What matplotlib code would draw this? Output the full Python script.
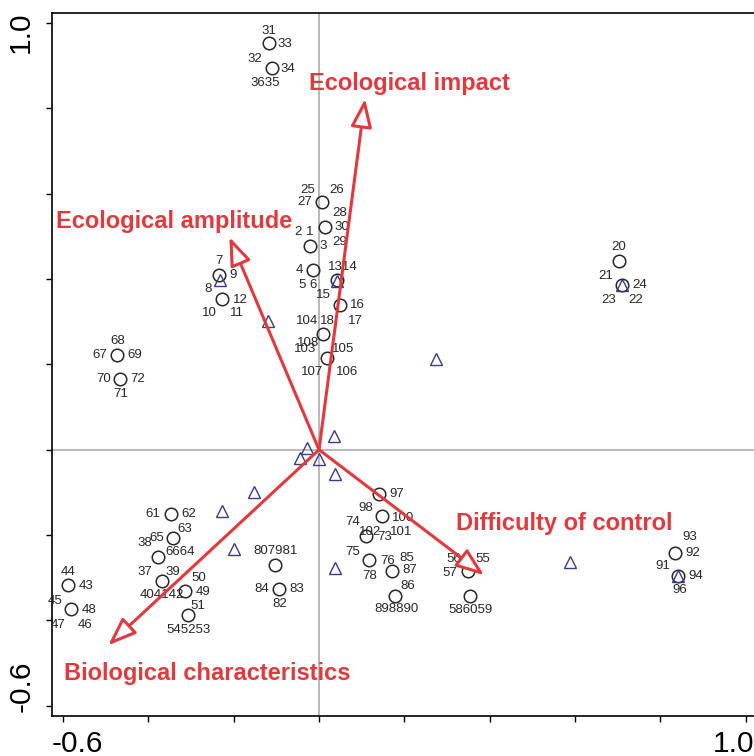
import matplotlib
matplotlib.use('Agg')
import matplotlib.pyplot as plt
from matplotlib.transforms import ScaledTranslation

plt.rcParams['font.family'] = ['Liberation Sans', 'DejaVu Sans']

# ---------------- data ----------------
# species sites (circles)
site_x = [-0.117, -0.111, 0.006, 0.014, -0.020, -0.234, -0.227, -0.013, 0.041, 0.049,
          0.010, 0.018, -0.474, -0.466, 0.703, 0.711, -0.347, -0.342, -0.377, -0.369,
          -0.314, -0.308, -0.588, -0.581, -0.102, -0.093, 0.141, 0.147, 0.110, 0.118,
          0.170, 0.178, 0.348, 0.354, 0.834, 0.842]
site_y = [0.952, 0.894, 0.579, 0.521, 0.478, 0.410, 0.354, 0.420, 0.397, 0.340,
          0.272, 0.215, 0.221, 0.166, 0.443, 0.386, -0.151, -0.207, -0.251, -0.308,
          -0.332, -0.388, -0.318, -0.373, -0.271, -0.326, -0.103, -0.156, -0.203, -0.258,
          -0.285, -0.342, -0.285, -0.342, -0.241, -0.295]
site_labels = [["31", "33"], ["32", "34", "3635"], ["25", "26", "27"], ["28", "30", "29"],
               ["2 1", "3"], ["7", "9", "8"], ["12", "10", "11"], ["4", "5 6"],
               ["1314", "15"], ["16", "17"], ["104", "18", "108", "103"],
               ["105", "107", "106"], ["68", "67", "69"], ["70", "72", "71"], ["20"],
               ["21", "24", "23", "22"], ["61", "62"], ["63", "65"], ["38", "6664"],
               ["37", "39", "404142"], ["50", "49"], ["51", "545253"], ["44", "43"],
               ["45", "48", "47", "46"], ["807981"], ["84", "83", "82"], ["97"],
               ["98", "100", "101"], ["74", "102", "73"], ["75", "76", "78"], ["85", "87"],
               ["86", "898890"], ["56", "55", "57"], ["586059"], ["93", "92"],
               ["91", "94", "96"]]

# samples / other scores (triangles)
tri_x = [-0.232, -0.119, 0.041, 0.711, 0.273, 0.034, -0.029, -0.045, 0.001, 0.037,
         -0.152, -0.228, -0.199, 0.037, 0.587, 0.842]
tri_y = [0.398, 0.302, 0.396, 0.386, 0.212, 0.033, 0.005, -0.019, -0.022, -0.056,
         -0.100, -0.143, -0.232, -0.276, -0.264, -0.295]

# environmental variables (arrows)
var_names = ["Ecological impact", "Ecological amplitude",
             "Biological characteristics", "Difficulty of control"]
var_x = [0.108, -0.210, -0.494, 0.387]
var_y = [0.822, 0.498, -0.458, -0.294]

# ---------------- layout ----------------
label_offsets = [[(0, 12.6), (16, -0.7)], [(-16.7, 9.3), (16.3, -0.7), (-6.7, -14.7)],
                 [(-13.7, 12), (15.3, 12.7), (-16.7, 0)], [(15, 14.7), (17, 0), (15, -15)],
                 [(-6.3, 13.3), (12.7, 0)], [(0, 14), (14, 0), (-11, -14)],
                 [(18.4, -1), (-13, -14.3), (14.4, -14.3)], [(-14.3, 0), (-5, -14.3)],
                 [(6.6, 13.4), (-12.7, -14.6)], [(17.3, 0), (15, -16.7)],
                 [(-16.6, 12.3), (4.4, 12.3), (-15, -9.3), (-18.3, -15.3)],
                 [(16.6, 9), (-15, -14.4), (20, -14.4)], [(1, 14), (-17.4, 0), (18.3, 0)],
                 [(-16.7, 0), (17.3, 0), (1, -15)], [(0, 14)],
                 [(-16.6, 9.3), (17.7, 0), (-13.6, -15), (13.7, -15)],
                 [(-17.7, 0), (18, 0)], [(11.7, 9.3), (-16.6, 0)], [(-13.3, 14), (21.7, 4.6)],
                 [(-16.7, 9.4), (11, 9.4), (0, -14)], [(13.3, 13.4), (17.7, -0.6)],
                 [(10.6, 9), (0.6, -14.3)], [(0, 13.4), (17.7, -1)],
                 [(-16, 7.6), (18.3, -1.4), (-12.7, -15.7), (14, -15.7)], [(0, 14)],
                 [(-17.6, 0), (17.4, 0), (0, -15)], [(17.7, 0)],
                 [(-15.7, 8.4), (21.6, -1.6), (19.3, -16)], [(-13.3, 14), (4, 4), (18.3, -0.6)],
                 [(-16.6, 8.3), (18.4, -0.7), (0.7, -16)], [(15.6, 13.4), (18.3, 1)],
                 [(12.7, 10), (1.7, -13.3)], [(-14, 12.7), (15, 12.7), (-17.3, -1.6)],
                 [(0.7, -14)], [(15, 15.4), (18.3, 0)], [(-15.6, 9.3), (17.7, 0), (1, -14)]]
var_label_x = [0.212, -0.340, -0.261, 0.575]
var_label_y = [0.857, 0.535, -0.523, -0.172]

RED = '#e1393e'
NAVY = '#3a3a8a'
DARK = '#262626'

fig = plt.figure(figsize=(7.54, 7.56), dpi=100)
ax = fig.add_axes([0.0688, 0.0533, 0.9344, 0.9296])
ax.set_xlim(-0.626, 1.025)
ax.set_ylim(-0.623, 1.023)

ax.axvline(0, color='#a6a6a6', lw=1.1, zorder=1)
ax.axhline(0, color='#a6a6a6', lw=1.1, zorder=1)

ax.plot(site_x, site_y, 'o', ms=9, mfc='none', mec=DARK, mew=1.1, zorder=3)
ax.plot(tri_x, tri_y, '^', ms=9, mfc='none', mec=NAVY, mew=1.0, zorder=3)

for x, y, labs, offs in zip(site_x, site_y, site_labels, label_offsets):
    for t, (dx, dy) in zip(labs, offs):
        ax.annotate(t, (x, y), xytext=(dx, dy), textcoords='offset pixels',
                    ha='center', va='center', fontsize=9.5, color=DARK, zorder=4)

for name, vx, vy, lx, ly in zip(var_names, var_x, var_y, var_label_x, var_label_y):
    ax.annotate('', xy=(vx, vy), xytext=(0, 0),
                arrowprops=dict(arrowstyle='-|>,head_length=1.73,head_width=0.65',
                                lw=2.2, ec=RED, fc='white', shrinkA=0, shrinkB=0,
                                mutation_scale=10), zorder=5)
    ax.text(lx, ly, name, ha='center', va='center', fontsize=17, fontweight='bold',
            color=RED, zorder=6)

ticks = [-0.6, -0.4, -0.2, 0.0, 0.2, 0.4, 0.6, 0.8, 1.0]
ticklabels = ['-0.6', '', '', '', '', '', '', '', '1.0']
ax.set_xticks(ticks)
ax.set_xticklabels(ticklabels)
ax.set_yticks(ticks)
ax.set_yticklabels(ticklabels, rotation=90, va='center')
ax.tick_params(axis='both', direction='out', length=4, width=1, color='black',
               labelsize=21.5, labelcolor='black')
ax.tick_params(axis='x', pad=6)
ax.tick_params(axis='y', pad=8)
for sp in ax.spines.values():
    sp.set_linewidth(1.2)
    sp.set_color('black')

# shift end labels as in the reference
xl = ax.get_xticklabels()
xl[0].set_transform(xl[0].get_transform() + ScaledTranslation(0.145, 0, fig.dpi_scale_trans))
xl[-1].set_transform(xl[-1].get_transform() + ScaledTranslation(-0.12, 0, fig.dpi_scale_trans))
yl = ax.get_yticklabels()
yl[0].set_transform(yl[0].get_transform() + ScaledTranslation(0, 0.20, fig.dpi_scale_trans))
yl[-1].set_transform(yl[-1].get_transform() + ScaledTranslation(0, -0.10, fig.dpi_scale_trans))

fig.savefig('out.png', dpi=100)
